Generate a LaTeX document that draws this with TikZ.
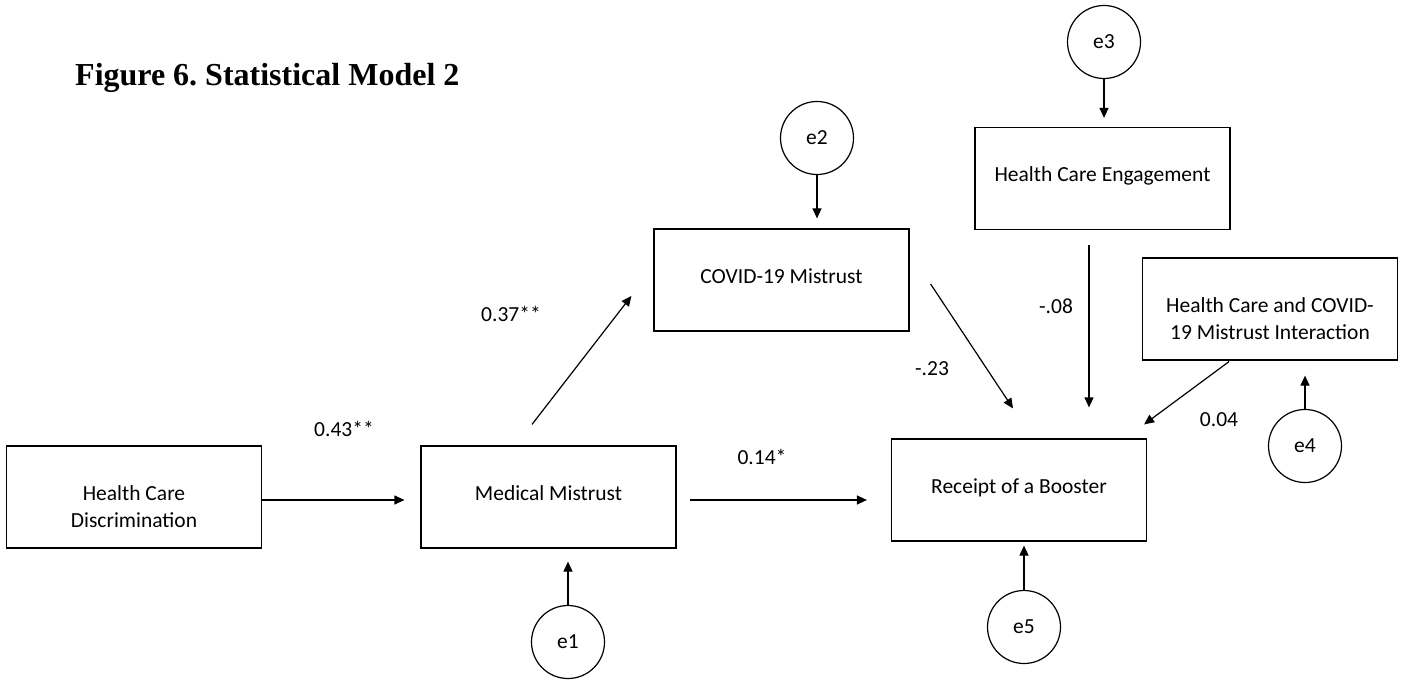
\documentclass[tikz,border=0pt]{standalone}
\usepackage{fontspec}
\setmainfont{Carlito}
\newfontfamily\titlefont{Liberation Serif}
\usetikzlibrary{arrows.meta,calc}
\frenchspacing
\begin{document}
\begin{tikzpicture}[x=1pt,y=-1pt,
  every node/.style={font=\fontsize{21.5}{27}\selectfont},
  var/.style={draw, line width=1.2pt, rectangle, inner sep=0pt,
    minimum width=255pt, minimum height=102pt,
    text height=54pt, text depth=48pt},
  err/.style={draw, line width=1.2pt, circle, inner sep=0pt, minimum size=73pt},
  coef/.style={inner sep=0pt},
  arr/.style={line width=1.2pt, -{Triangle[length=10pt,width=9pt]}}]
\useasboundingbox (0,0) rectangle (1405,687);

% title
\node[anchor=base west, inner sep=0pt,
  font=\titlefont\bfseries\fontsize{32}{38}\selectfont] (title) at (75,86)
  {Figure 6. Statistical Model 2};

% observed variables
\node[var] (hcd) at (134,497)
  {\begin{tabular}[t]{@{}c@{}}Health Care\\Discrimination\end{tabular}};
\node[var] (mm)  at (548.5,497) {Medical Mistrust};
\node[var] (cov) at (781.5,280) {COVID-19 Mistrust};
\node[var] (hce) at (1102.5,178.5) {Health Care Engagement};
\node[var] (int) at (1270,309)
  {\begin{tabular}[t]{@{}c@{}}Health Care and COVID-\\19 Mistrust Interaction\end{tabular}};
\node[var] (rb)  at (1019,490) {Receipt of a Booster};

% error terms
\node[err] (e1) at (568,642) {e1};
\node[err] (e2) at (817,138) {e2};
\node[err] (e3) at (1104,42) {e3};
\node[err] (e4) at (1305,446) {e4};
\node[err] (e5) at (1024,627) {e5};

% structural paths
\draw[arr] ($(hcd.east)+(0,3)$) -- ($(mm.west)+(-16,3)$);
\draw[arr] ($(mm.east)+(13,3)$) -- ($(rb.west)+(-24,10)$);
\draw[arr] ($(mm.north)+(-16.5,-21)$) -- ($(cov.west)+(-22,16)$);
\draw[arr] ($(cov.east)+(21,4)$) -- ($(rb.north)+(-6,-30)$);
\draw[arr] ($(hce.south)+(-13.5,15)$) -- ($(rb.north)+(70,-31)$);
\draw[arr] ($(int.south)+(-41,1)$) -- ($(rb.north east)+(-3,-14)$);

% error paths
\draw[arr, shorten >=10pt] (e2.south) -- (e2.south |- cov.north);
\draw[arr, shorten >=9pt]  (e3.south) -- (e3.south |- hce.north);
\draw[arr, shorten >=15pt] (e4.north) -- (e4.north |- int.south);
\draw[arr, shorten >=4pt]  (e5.north) -- (e5.north |- rb.south);
\draw[arr, shorten >=13pt] (e1.north) -- (e1.north |- mm.south);

% coefficients
\node[coef] (c43) at (344,429)  {0.43**};
\node[coef] (c37) at (511,314)  {0.37**};
\node[coef] (c14) at (762,457)  {0.14*};
\node[coef] (c23) at (932,369)  {-.23};
\node[coef] (c08) at (1056,306) {-.08};
\node[coef] (c04) at (1219,420) {0.04};
\end{tikzpicture}
\end{document}
